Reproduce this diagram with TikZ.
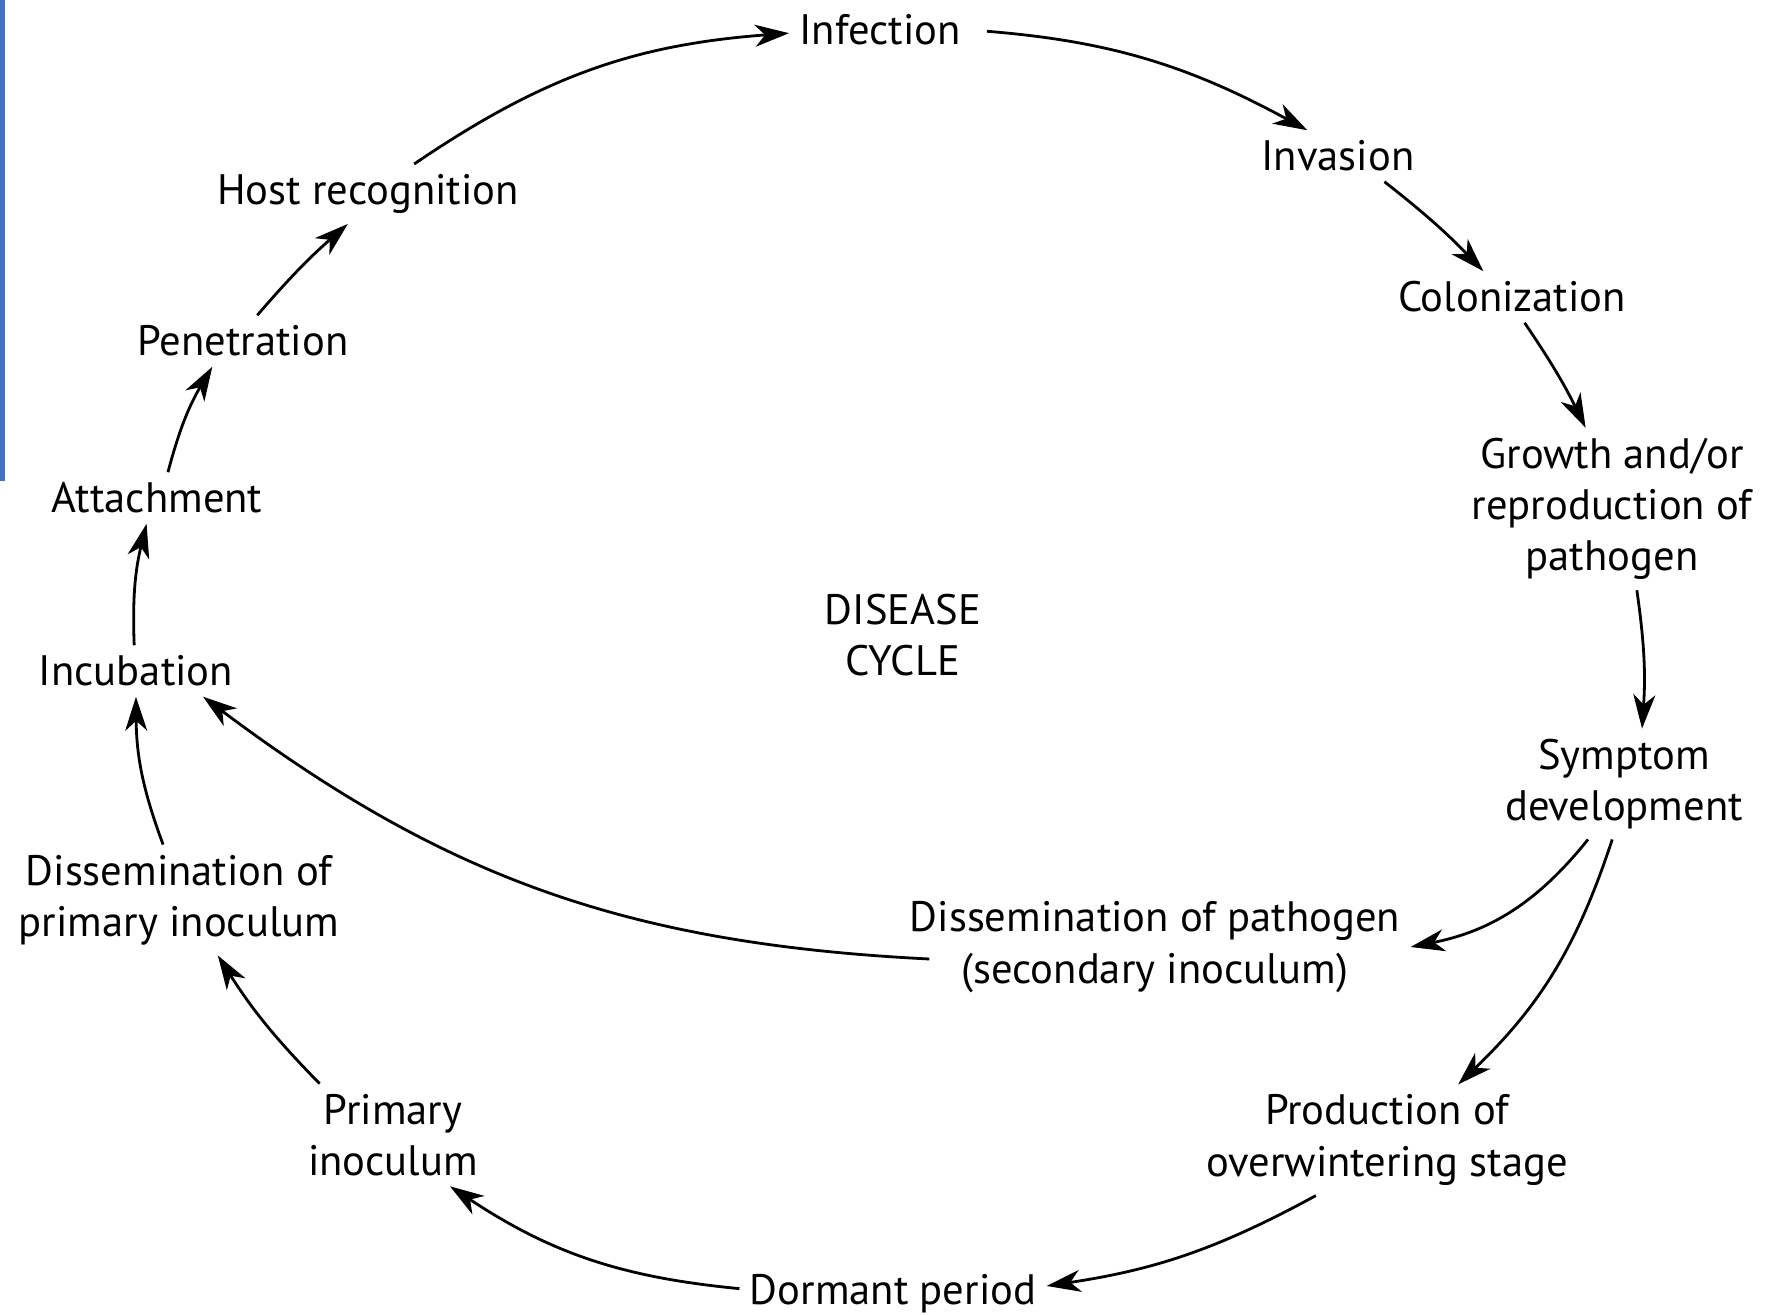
\documentclass[tikz,border=0pt]{standalone}
\usepackage{fontspec}
\setmainfont{PT Sans}
\usetikzlibrary{arrows.meta}
\definecolor{barblue}{RGB}{68,114,196}

\begin{document}
\begin{tikzpicture}[x=0.5pt,y=0.5pt,
		lbl/.style = {align=center, inner sep=5pt, font=\fontsize{21.3}{25.6}\selectfont},
		cyc/.style = {-{Stealth[length=17pt,width=11pt,inset=5pt]}, line width=1.4pt}]
		\useasboundingbox (0,0) rectangle (1781,1314);
		\fill[barblue] (0,833) rectangle (5,1314);
		\node[lbl] (inf) at (880,1284) {Infection};
		\node[lbl] (inv) at (1338,1158) {Invasion};
		\node[lbl] (col) at (1512,1017) {Colonization};
		\node[lbl] (grow) at (1612,805) {Growth and/or\\reproduction of\\pathogen};
		\node[lbl] (sym) at (1624,530) {Symptom\\development};
		\node[lbl] (dpath) at (1155,367) {Dissemination of pathogen\\(secondary inoculum)};
		\node[lbl] (prod) at (1387,174) {Production of\\overwintering stage};
		\node[lbl] (dorm) at (893,20) {Dormant period};
		\node[lbl] (pinoc) at (393,179) {Primary\\inoculum};
		\node[lbl] (dprim) at (179,414) {Dissemination of\\primary inoculum};
		\node[lbl] (incub) at (136,643) {Incubation};
		\node[lbl] (att) at (157,816) {Attachment};
		\node[lbl] (pen) at (243,973) {Penetration};
		\node[lbl] (host) at (368,1120) {Host recognition};
		\node[lbl] (cycle) at (903,679) {DISEASE\\CYCLE};
		\draw[cyc] (host.33) to[bend left=15] (inf.182);
		\draw[cyc, shorten <=8pt] (inf.0) to[bend left=12] (inv.140);
		\draw[cyc] (inv.-29) to[bend left=4] (col.138);
		\draw[cyc] (col.-64) to[bend left=4] (grow.108);
		\draw[cyc] (grow.-73) to[bend left=6] (sym.72);
		\draw[cyc] (sym.237) to[bend left=20] (dpath.0);
		\draw[cyc] (sym.258) to[bend left=14] (prod.38);
		\draw[cyc] (prod.218) to[bend left=10] (dorm.3);
		\draw[cyc] (dorm.178) to[bend left=14] (pinoc.-42);
		\draw[cyc] (pinoc.145) to[bend left=6] (dprim.-55);
		\draw[cyc] (dprim.106) to[bend left=10] (incub.-90);
		\draw[cyc] (incub.94) to[bend left=8] (att.-112);
		\draw[cyc] (att.67) to[bend left=8] (pen.220);
		\draw[cyc] (pen.61) to[bend left=4] (host.236);
		\draw[cyc] ([xshift=15pt,yshift=-6pt]dpath.west) to[bend left=17] (incub.-21);
	\end{tikzpicture}
\end{document}
